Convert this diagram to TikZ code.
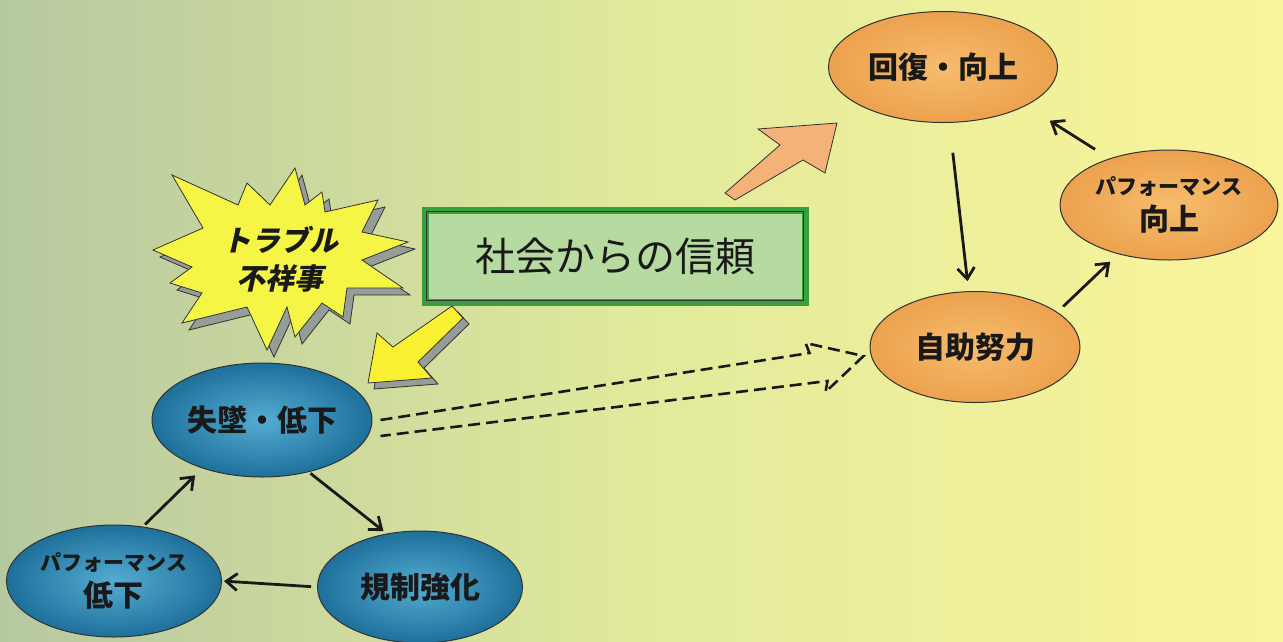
\documentclass[tikz,border=0pt]{standalone}
\usepackage{fontspec}
\newfontfamily\jp{Noto Sans CJK JP}
\newfontfamily\jpsl{Noto Sans CJK JP}[FakeSlant=0.22]
\usetikzlibrary{arrows.meta,shapes.geometric}
\definecolor{bgl}{RGB}{182,200,160}
\definecolor{bgm}{RGB}{225,234,155}
\definecolor{bgr}{RGB}{250,245,155}
\definecolor{bluein}{RGB}{85,172,210}
\definecolor{blueout}{RGB}{30,112,155}
\definecolor{orin}{RGB}{246,188,110}
\definecolor{orout}{RGB}{236,162,78}
\definecolor{edge}{RGB}{50,50,50}
\definecolor{txt}{RGB}{25,25,25}
\definecolor{staryel}{RGB}{245,245,70}
\definecolor{arryel}{RGB}{250,240,50}
\definecolor{arror}{RGB}{244,178,120}
\definecolor{grn}{RGB}{55,160,60}
\definecolor{boxfill}{RGB}{182,218,160}
\definecolor{shad}{RGB}{150,156,150}
\begin{document}
\begin{tikzpicture}[x=1pt,y=-1pt,
  ellbase/.style={ellipse, draw=edge, line width=1pt, text=txt, inner sep=0pt, align=center,
    font=\jp\bfseries\fontsize{30}{36}\selectfont},
  blueell/.style={ellbase, inner color=bluein, outer color=blueout},
  orell/.style={ellbase, inner color=orin, outer color=orout},
  conn/.style={-{Straight Barb[length=11pt,width=17pt]}, line width=2.8pt, draw=txt},
  hollow/.style={draw=txt, line width=2.6pt, dash pattern=on 12pt off 6pt}
]
\useasboundingbox (0,0) rectangle (1283,641);
\shade[left color=bgl, right color=bgr, middle color=bgm] (0,0) rectangle (1283,641);

% starburst shadow and body
\draw[fill=shad, draw=edge, line width=0.8pt, shift={(7,7)}]
 (172,175)--(238,205)--(247,183)--(270,205)--(295,168)--(305,205)--(322,192)--(325,212)--(378,200)--(362,232)--(408,242)--(362,260)--(403,288)--(347,288)--(343,317)--(322,303)--(295,337)--(287,307)--(267,350)--(247,307)--(182,323)--(202,293)--(170,283)--(192,267)--(153,250)--(203,228)--cycle;
\draw[fill=staryel, draw=edge, line width=0.8pt]
 (172,175)--(238,205)--(247,183)--(270,205)--(295,168)--(305,205)--(322,192)--(325,212)--(378,200)--(362,232)--(408,242)--(362,260)--(403,288)--(347,288)--(343,317)--(322,303)--(295,337)--(287,307)--(267,350)--(247,307)--(182,323)--(202,293)--(170,283)--(192,267)--(153,250)--(203,228)--cycle;
\node[font=\jpsl\bfseries\fontsize{29}{38}\selectfont, text=txt, align=center] (trouble) at (280,259) {トラブル\\不祥事};

% trust box
\node[draw=grn, line width=7pt, fill=boxfill, minimum width=380pt, minimum height=92pt,
  font=\jp\fontsize{40}{44}\selectfont, text=txt] (trust) at (615,256) {社会からの信頼};
\draw[edge, line width=1pt] ([shift={(5pt,-5pt)}]trust.north west) rectangle ([shift={(-5pt,5pt)}]trust.south east);

% ellipses
\node[blueell, minimum width=220pt, minimum height=114pt] (sit) at (262,420) {失墜・低下};
\node[blueell, minimum width=215pt, minimum height=112pt] (plo) at (114,581) {{\jp\bfseries\fontsize{21}{24}\selectfont パフォーマンス}\\低下};
\node[blueell, minimum width=205pt, minimum height=112pt] (reg) at (420,587) {規制強化};
\node[orell, minimum width=229pt, minimum height=111pt] (rec) at (943,67) {回復・向上};
\node[orell, minimum width=218pt, minimum height=110pt] (pup) at (1169,205) {{\jp\bfseries\fontsize{21}{24}\selectfont パフォーマンス}\\向上};
\node[orell, minimum width=210pt, minimum height=111pt] (self) at (975,347) {自助努力};

% yellow arrow with shadow
\draw[fill=shad, draw=edge, line width=0.8pt, shift={(6,6)}]
 (368,383)--(377,333)--(393,347)--(452,306)--(463,318)--(418,362)--(432,378)--cycle;
\draw[fill=arryel, draw=edge, line width=0.8pt]
 (368,383)--(377,333)--(393,347)--(452,306)--(463,318)--(418,362)--(432,378)--cycle;

% orange arrow
\draw[fill=arror, draw=edge, line width=0.8pt]
 (837,123)--(758,129)--(780,145)--(725,193)--(735,200)--(803,160)--(825,173)--cycle;

% dashed hollow arrow
\draw[hollow] ([shift={(8,0)}]sit.east) -- ([shift={(-60,6)}]self.west) -- ([shift={(-64,-4)}]self.west)
  -- ([shift={(-6,9)}]self.west) -- ([shift={(-44,45)}]self.west) -- ([shift={(-42,34)}]self.west)
  -- ([shift={(8,16)}]sit.east);

% cycle connectors
\draw[conn, shorten <=2pt, shorten >=4pt] (sit.-48) -- (reg.122);
\draw[conn, shorten <=6pt, shorten >=2pt] (reg.west) -- (plo.east);
\draw[conn, shorten <=3pt, shorten >=10pt] (plo.62) -- (sit.-141);
\draw[conn, shorten <=30pt, shorten >=10pt] (rec) -- (self);
\draw[conn, shorten <=8pt, shorten >=11pt] (self.23) -- (pup.-136);
\draw[conn, shorten <=17pt, shorten >=28pt] (pup.142) -- (rec.-25);
\end{tikzpicture}
\end{document}
